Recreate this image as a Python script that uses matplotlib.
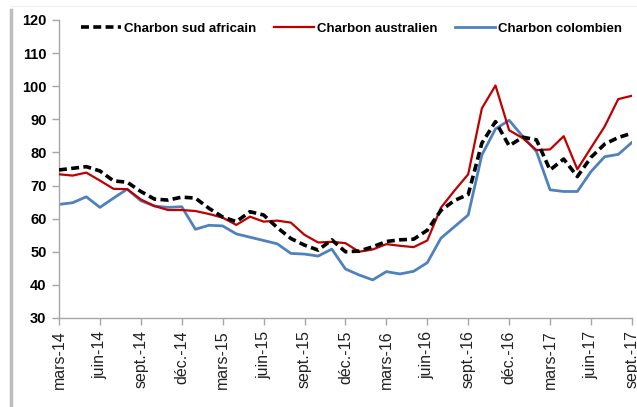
import numpy as np
import matplotlib.pyplot as plt
from matplotlib.lines import Line2D

# Monthly coal prices, mars-14 .. sept.-17
months = ['mars-14', 'avr-14', 'mai-14', 'juin-14', 'juil-14', 'août-14', 'sept.-14', 'oct-14', 'nov-14', 'déc.-14',
          'janv-15', 'févr-15', 'mars-15', 'avr-15', 'mai-15', 'juin-15', 'juil-15', 'août-15', 'sept.-15', 'oct-15',
          'nov-15', 'déc.-15', 'janv-16', 'févr-16', 'mars-16', 'avr-16', 'mai-16', 'juin-16', 'juil-16', 'août-16',
          'sept.-16', 'oct-16', 'nov-16', 'déc.-16', 'janv-17', 'févr-17', 'mars-17', 'avr-17', 'mai-17', 'juin-17',
          'juil-17', 'août-17', 'sept.-17']

sud_africain = [74.7, 75.2, 75.7, 74.4, 71.4, 71.0, 68.2, 65.9, 65.6, 66.5,
                66.2, 63.1, 60.5, 59.1, 62.1, 61.1, 57.3, 54.0, 52.0, 50.5,
                53.6, 50.0, 50.2, 51.5, 53.1, 53.6, 53.8, 56.5, 62.5, 65.5,
                67.3, 82.8, 89.3, 82.0, 84.6, 83.8, 74.7, 78.0, 72.7, 78.5,
                82.5, 84.5, 85.8]

australien = [73.4, 73.0, 73.9, 71.5, 69.0, 68.9, 65.8, 63.8, 62.6, 62.6,
              62.3, 61.4, 60.3, 58.1, 60.6, 59.1, 59.4, 58.8, 55.1, 52.8,
              53.0, 52.6, 50.0, 50.7, 52.3, 51.8, 51.4, 53.4, 63.3, 68.5,
              73.4, 93.3, 100.2, 86.7, 84.3, 80.7, 80.9, 84.9, 74.9, 81.4,
              87.8, 96.1, 97.1]

colombien = [64.3, 64.8, 66.6, 63.4, 66.2, 68.9, 65.4, 63.8, 63.4, 63.6,
             56.8, 58.0, 57.8, 55.4, 54.4, 53.4, 52.4, 49.5, 49.3, 48.7,
             50.8, 44.8, 43.0, 41.5, 44.0, 43.3, 44.1, 46.7, 54.1, 57.6,
             61.1, 79.2, 87.1, 89.7, 84.8, 80.3, 68.7, 68.2, 68.2, 74.2,
             78.7, 79.4, 83.0]

font = ['Liberation Sans', 'DejaVu Sans']
x = np.arange(len(months))

fig = plt.figure(figsize=(6.37, 4.07), dpi=100)
ax = fig.add_axes([0.0926, 0.2187, 0.8994, 0.7323])

ax.plot(x, sud_africain, color='black', lw=2.6, dashes=(2.2, 1.2), label='Charbon sud africain', zorder=4)
ax.plot(x, australien, color='#C00000', lw=1.6, label='Charbon australien', zorder=3)
ax.plot(x, colombien, color='#4F81BD', lw=2.0, label='Charbon colombien', zorder=2)

ax.set_xlim(0, len(months) - 1)
ax.set_ylim(30, 120)
ax.set_yticks(range(30, 121, 10))
ax.set_yticklabels([str(v) for v in range(30, 121, 10)], family=font, fontweight='bold', fontsize=10.5)
ax.set_xticks(x[::3])
ax.set_xticklabels(months[::3], rotation=90, family=font, fontsize=11.5, color='#222222')

for side in ['top', 'right']:
    ax.spines[side].set_visible(False)
for side in ['left', 'bottom']:
    ax.spines[side].set_color('#a6a6a6')
    ax.spines[side].set_linewidth(1.0)
ax.tick_params(axis='both', direction='out', length=5, color='#a6a6a6', width=1.0)
ax.tick_params(axis='y', pad=4)
ax.tick_params(axis='x', pad=4)

leg = fig.legend(loc='center', bbox_to_anchor=(0.552, 0.93), ncol=3, frameon=False,
                 handlelength=3.0, columnspacing=1.35, handletextpad=0.25,
                 prop={'family': font, 'weight': 'bold', 'size': 9.5})

# chart border shadow
fig.add_artist(Line2D([0.017, 0.017], [0.0, 0.975], transform=fig.transFigure, color='#bdbdbd', lw=2.5))
fig.add_artist(Line2D([0.017, 1.0], [0.985, 0.985], transform=fig.transFigure, color='#f0f0f0', lw=1.0))

fig.savefig('out.png', dpi=100)
